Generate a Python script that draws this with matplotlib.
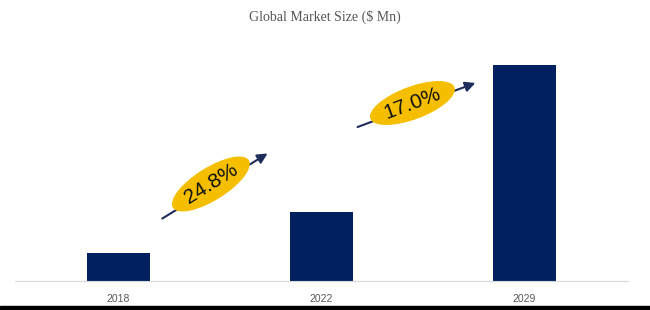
import matplotlib
matplotlib.use("Agg")
import matplotlib.pyplot as plt
from matplotlib.patches import Rectangle

years = ["2018", "2022", "2029"]
market_size = [28, 69, 216]
cagr_labels = ["24.8%", "17.0%"]

bar_color = "#002060"
arrow_color = "#1F2D5C"
pill_color = "#F5BF00"

fig = plt.figure(figsize=(6.5, 3.1), dpi=100)
ax = fig.add_axes([15 / 650, 29 / 310, 613 / 650, 241 / 310])

x = list(range(len(years)))
ax.bar(x, market_size, width=0.31, color=bar_color, zorder=2)
ax.set_xlim(-0.51, 2.51)
ax.set_ylim(0, 241)

ax.set_xticks(x)
ax.set_xticklabels(years, fontsize=7.5, color="#595959", family="Liberation Sans")
ax.tick_params(axis="x", length=0, pad=9)
ax.set_yticks([])
for s in ["top", "right", "left"]:
    ax.spines[s].set_visible(False)
ax.spines["bottom"].set_color("#D9D9D9")
ax.spines["bottom"].set_linewidth(0.8)

# CAGR arrows between the bars
arrows = [((0.204, 61), (0.746, 129)), ((1.165, 153), (1.771, 199))]
angles = [32, 20.5]
for (start, end), label, ang in zip(arrows, cagr_labels, angles):
    ax.annotate("", xy=end, xytext=start,
                arrowprops=dict(arrowstyle="-|>,head_length=0.6,head_width=0.3",
                                color=arrow_color, lw=1.5), zorder=3)
    mx = (start[0] + end[0]) / 2 - 0.02
    my = (start[1] + end[1]) / 2 + 2
    ax.text(mx, my, label, rotation=ang, rotation_mode="anchor",
            ha="center", va="center", fontsize=15, color="#111111",
            family="Liberation Sans", zorder=4,
            bbox=dict(boxstyle="ellipse,pad=0.1", fc=pill_color, ec="none"))

fig.text(0.5, 1 - 17 / 310, "Global Market Size ($ Mn)", ha="center", va="center",
         fontsize=10, color="#555555", family="Liberation Serif")

# black strip at the bottom edge
fig.patches.append(Rectangle((0, 0), 1, 4 / 310, transform=fig.transFigure,
                             color="black", zorder=5))

plt.savefig("out.png", dpi=100)
